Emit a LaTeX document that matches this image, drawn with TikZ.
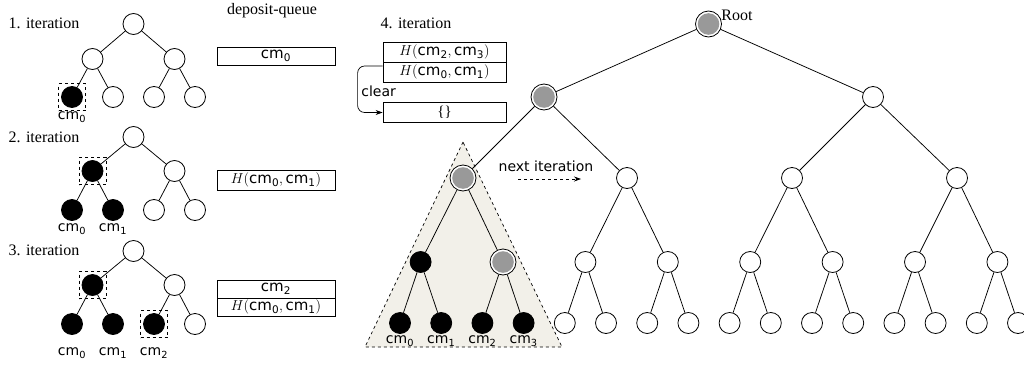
\documentclass[tikz,border=0pt]{standalone}
\usepackage{fontspec}
\setmainfont{Liberation Serif}
\setsansfont{DejaVu Sans}
\usetikzlibrary{arrows.meta,calc}
\newcommand\cmsub[1]{\textsf{cm}\textsubscript{\textsf{#1}}}
\definecolor{tri}{HTML}{F2F0E9}
\definecolor{gfill}{HTML}{999999}
\begin{document}
\begin{tikzpicture}[x=1pt,y=-1pt,
  line width=0.8pt,
  wn/.style={circle,draw,fill=white,minimum size=21pt,inner sep=0pt},
  bn/.style={circle,draw,fill=black,minimum size=21pt,inner sep=0pt},
  gn/.style={circle,draw,fill=white,minimum size=26pt,inner sep=0pt,
    path picture={\fill[gfill] (path picture bounding box.center) circle (10.8pt);}},
  selbox/.style={draw,dashed,minimum size=27pt,inner sep=0pt,line width=0.7pt},
  qbox/.style={draw,minimum width=118pt,minimum height=18pt,inner sep=0pt,
    font=\fontsize{15}{17}\selectfont},
  qboxb/.style={qbox,minimum width=123pt,minimum height=20pt},
  rmlbl/.style={font=\fontsize{16}{19}\selectfont\rmfamily,inner sep=0pt},
  sflbl/.style={font=\fontsize{14}{16}\selectfont\sffamily,inner sep=0pt},
  edge/.style={line width=0.75pt}
]
\useasboundingbox (0,0) rectangle (1024,364);

% ---------- labels
\node[rmlbl] (it1) at (44,23) {1. iteration};
\node[rmlbl] (it2) at (44,137) {2. iteration};
\node[rmlbl] (it3) at (44,250) {3. iteration};
\node[rmlbl] (dq) at (272,11) {deposit-queue};
\node[rmlbl] (it4) at (416,23) {4. iteration};

% ---------- tree 1
\node[wn] (a0) at (133.5,24) {};
\node[wn] (a1) at (92.5,59) {};
\node[wn] (a2) at (174.5,59) {};
\node[bn] (a3) at (72,97) {};
\node[wn] (a4) at (113,97) {};
\node[wn] (a5) at (154,97) {};
\node[wn] (a6) at (195,97) {};
\draw[edge] (a0)--(a1) (a0)--(a2) (a1)--(a3) (a1)--(a4) (a2)--(a5) (a2)--(a6);
\node[selbox] (a3s) at (a3) {};
\node[sflbl] (a3l) at (72,117) {\cmsub{0}};
\node[qbox] (q1) at (276,56) {\cmsub{0}};

% ---------- tree 2
\node[wn] (b0) at (133.5,137) {};
\node[bn] (b1) at (92.5,171) {};
\node[wn] (b2) at (174.5,171) {};
\node[bn] (b3) at (72,210) {};
\node[bn] (b4) at (113,210) {};
\node[wn] (b5) at (154,210) {};
\node[wn] (b6) at (195,210) {};
\draw[edge] (b0)--(b1) (b0)--(b2) (b1)--(b3) (b1)--(b4) (b2)--(b5) (b2)--(b6);
\node[selbox] (b1s) at (b1) {};
\node[sflbl] (b3l) at (72,229) {\cmsub{0}};
\node[sflbl] (b4l) at (113,229) {\cmsub{1}};
\node[qbox,minimum height=20pt] (q2) at (276,180) {$H(\mbox{\cmsub{0}},\mbox{\cmsub{1}})$};

% ---------- tree 3
\node[wn] (c0) at (133.5,251) {};
\node[bn] (c1) at (92.5,285) {};
\node[wn] (c2) at (174.5,285) {};
\node[bn] (c3) at (72,324) {};
\node[bn] (c4) at (113,324) {};
\node[bn] (c5) at (154,324) {};
\node[wn] (c6) at (195,324) {};
\draw[edge] (c0)--(c1) (c0)--(c2) (c1)--(c3) (c1)--(c4) (c2)--(c5) (c2)--(c6);
\node[selbox] (c1s) at (c1) {};
\node[selbox] (c5s) at (c5) {};
\node[sflbl] (c3l) at (72,353) {\cmsub{0}};
\node[sflbl] (c4l) at (113,353) {\cmsub{1}};
\node[sflbl] (c5l) at (154,353) {\cmsub{2}};
\node[qbox] (q3a) at (276,289) {\cmsub{2}};
\node[qbox] (q3b) at (276,307) {$H(\mbox{\cmsub{0}},\mbox{\cmsub{1}})$};

% ---------- 4th iteration queue
\node[qboxb] (q4a) at (444.5,52) {$H(\mbox{\cmsub{2}},\mbox{\cmsub{3}})$};
\node[qboxb] (q4b) at (444.5,72) {$H(\mbox{\cmsub{0}},\mbox{\cmsub{1}})$};
\node[qboxb] (q4c) at (444.5,112.5) {\{\}};
\coordinate (cs) at ($(q4b.west)+(0,-6)$);
\draw[-{Stealth[length=7pt,width=5pt]},rounded corners=7pt,line width=0.7pt]
  (cs) -- ++(-25,0) |- (q4c.west);
\node[sflbl,anchor=west] (clr) at (361,91) {clear};

% ---------- big tree: shaded triangle
\coordinate (tA) at (463,142);
\coordinate (tB) at (365,347);
\coordinate (tC) at (562,347);
\fill[tri] (tA)--(tB)--(tC)--cycle;
\draw[dashed,line width=0.7pt] (tA)--(tB)--(tC)--cycle;

% root and level 1
\node[gn] (R) at (708.5,24) {};
\node[rmlbl,anchor=west] (Rl) at (721,15) {Root};
\node[gn] (L0) at (544,97) {};
\node[wn] (L1) at (873,97) {};
% level 2
\node[gn] (M0) at (463,178) {};
\node[wn] (M1) at (627,178) {};
\node[wn] (M2) at (792,178) {};
\node[wn] (M3) at (957,178) {};
% level 3
\node[bn] (N0) at (420.6,262) {};
\node[gn] (N1) at (503,262) {};
\foreach \k in {2,...,7} \node[wn] (N\k) at ({420.6+82.4*\k},262) {};
% leaves
\foreach \k in {0,...,3} \node[bn] (P\k) at ({400+41.2*\k},323) {};
\foreach \k in {4,...,15} \node[wn] (P\k) at ({400+41.2*\k},323) {};

\draw[edge] (R)--(L0) (R)--(L1);
\draw[edge] (L0)--(M0) (L0)--(M1) (L1)--(M2) (L1)--(M3);
\foreach \k in {0,...,7} {
  \pgfmathtruncatemacro\p{int(\k/2)}
  \draw[edge] (M\p)--(N\k);
}
\foreach \k in {0,...,15} {
  \pgfmathtruncatemacro\p{int(\k/2)}
  \draw[edge] (N\p)--(P\k);
}
\node[sflbl] (P0l) at (400,341) {\cmsub{0}};
\node[sflbl] (P1l) at (441.2,341) {\cmsub{1}};
\node[sflbl] (P2l) at (482.4,341) {\cmsub{2}};
\node[sflbl] (P3l) at (523.6,341) {\cmsub{3}};

% next iteration
\node[sflbl] (nx) at (546,166) {next iteration};
\coordinate (na) at (518,179);
\coordinate (nb) at (581,179);
\draw[dashed,line width=0.7pt,-{Stealth[length=7pt,width=5pt]}] (na)--(nb);
\end{tikzpicture}
\end{document}
